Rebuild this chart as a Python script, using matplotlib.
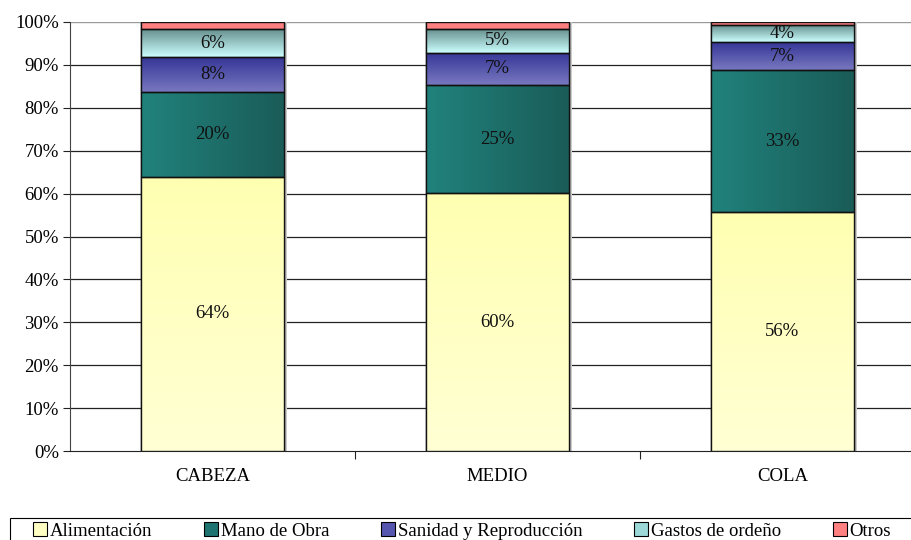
import matplotlib
matplotlib.use("Agg")
import matplotlib.pyplot as plt
import numpy as np
from matplotlib.colors import LinearSegmentedColormap
from matplotlib.patches import Patch, Rectangle

categories = ["CABEZA", "MEDIO", "COLA"]
series_names = ["Alimentación", "Mano de Obra", "Sanidad y Reproducción", "Gastos de ordeño", "Otros"]
alimentacion = [63.9, 60.1, 55.7]
mano_obra = [19.8, 25.2, 33.1]
sanidad = [8.1, 7.5, 6.5]
gastos = [6.6, 5.6, 4.0]
otros = [1.6, 1.6, 0.7]
labels = [["64%", "60%", "56%"], ["20%", "25%", "33%"], ["8%", "7%", "7%"], ["6%", "5%", "4%"], None]

series = [alimentacion, mano_obra, sanidad, gastos, otros]
solid = ["#FFFFC4", "#1E7470", "#5656B0", "#9CD8D8", "#FF8080"]
grads = [("#FFFFD4", "#FFFFB2", "v"),
         ("#21827C", "#1A5C58", "h"),
         ("#7878C0", "#363698", "v"),
         ("#CCFFFF", "#628C8A", "v"),
         ("#FF8080", "#FF8080", "v")]

plt.rcParams['font.family'] = ['Liberation Serif', 'DejaVu Serif']
fig = plt.figure(figsize=(9.12, 5.4), dpi=100)
ax = fig.add_axes([70/912, 1-451/540, 855/912, 429/540])

x = np.arange(len(categories))
width = 0.5
total = np.sum(np.array(series), axis=0)
ax.bar(x + 0.011, total, width, bottom=0, color="#CCCCCC", linewidth=0, zorder=2)

bottom = np.zeros(len(categories))
for i, vals in enumerate(series):
    vals = np.array(vals)
    bars = ax.bar(x, vals, width, bottom=bottom, color=solid[i], edgecolor="#111111", linewidth=1.0, zorder=3)
    c0, c1, d = grads[i]
    cmap = LinearSegmentedColormap.from_list("g%d" % i, [c0, c1])
    for j, b in enumerate(bars):
        x0 = x[j] - width/2
        y0 = bottom[j]
        h = vals[j]
        if d == "v":
            arr = np.linspace(0, 1, 64).reshape(-1, 1)
        else:
            arr = np.linspace(0, 1, 64).reshape(1, -1)
        im = ax.imshow(arr, cmap=cmap, extent=(x0, x0+width, y0, y0+h), origin="lower",
                       aspect="auto", zorder=3.5, interpolation="bilinear")
        im.set_clip_path(b)
        ax.bar(x[j], h, width, bottom=y0, facecolor="none", edgecolor="#111111", linewidth=1.0, zorder=4)
        if labels[i] is not None:
            ax.text(x[j], y0 + h/2, labels[i][j], ha="center", va="center", fontsize=13.5, zorder=5, color="#111111")
    bottom = bottom + vals

ax.set_xlim(-0.5, 2.5)
ax.set_ylim(0, 100)
ax.set_yticks(np.arange(0, 101, 10))
ax.set_yticklabels(["%d%%" % v for v in range(0, 101, 10)], fontsize=13.5)
ax.set_xticks([0.5, 1.5])
ax.set_xticklabels([])
ax.set_xticks(x, minor=True)
ax.set_xticklabels(categories, minor=True, fontsize=13.5)
ax.tick_params(axis="x", which="minor", length=0, pad=12)
ax.tick_params(axis="x", which="major", length=6, direction="out", color="#222222")
ax.tick_params(axis="y", length=5, direction="out", pad=3, color="#222222")
for v in range(10, 100, 10):
    ax.axhline(v, color="#222222", linewidth=0.9, zorder=1)
ax.axhline(100, color="#9A9A9A", linewidth=1.0, zorder=1)
ax.spines["top"].set_visible(False)
ax.spines["right"].set_visible(False)
ax.spines["left"].set_color("#444444")
ax.spines["bottom"].set_color("#222222")

# legend frame (extends past the figure edge as in the reference)
fig.patches.append(Rectangle((10/912, -0.02), 0.995, (1-518/540) + 0.02, transform=fig.transFigure,
                             facecolor="none", edgecolor="black", linewidth=0.8))
handles = [Patch(facecolor=solid[i], edgecolor="black", linewidth=0.8) for i in range(5)]
leg = fig.legend(handles, series_names, loc="center left", bbox_to_anchor=(33/912, 1-531/540),
                 ncol=5, frameon=False, fontsize=13.5, handlelength=0.75, handleheight=0.75,
                 handletextpad=0.15, columnspacing=2.75, borderpad=0.0,
                 borderaxespad=0)

fig.savefig("out.png", dpi=100)
